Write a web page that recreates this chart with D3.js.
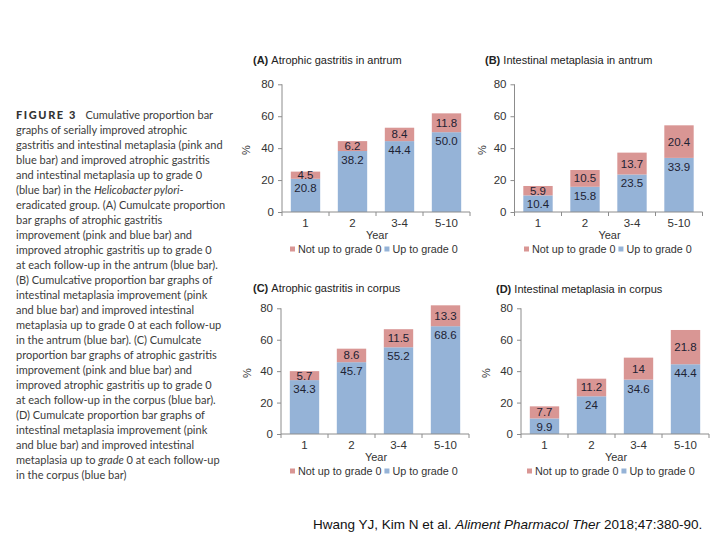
<!DOCTYPE html>
<html>
<head>
<meta charset="utf-8">
<script src="https://cdn.jsdelivr.net/npm/d3@7"></script>
<style>
  html, body { margin: 0; padding: 0; background: #ffffff; }
  svg { display: block; }
</style>
</head>
<body>
<script>
// ---------------- DATA ----------------
const years = ["1", "2", "3-4", "5-10"];
const yTicks = [0, 20, 40, 60, 80];
const seriesNames = ["Not up to grade 0", "Up to grade 0"];

const agAntrumUp  = [20.8, 38.2, 44.4, 50.0];
const agAntrumNot = [4.5, 6.2, 8.4, 11.8];
const imAntrumUp  = [10.4, 15.8, 23.5, 33.9];
const imAntrumNot = [5.9, 10.5, 13.7, 20.4];
const agCorpusUp  = [34.3, 45.7, 55.2, 68.6];
const agCorpusNot = [5.7, 8.6, 11.5, 13.3];
const imCorpusUp  = [9.9, 24, 34.6, 44.4];
const imCorpusNot = [7.7, 11.2, 14, 21.8];

const panelTags   = ["(A)", "(B)", "(C)", "(D)"];
const panelTitles = ["Atrophic gastritis in antrum", "Intestinal metaplasia in antrum",
                     "Atrophic gastritis in corpus", "Intestinal metaplasia in corpus"];

const captionLines = [
  [["b", "FIGURE 3"], ["n", "   Cumulative proportion bar"]],
  [["n", "graphs of serially improved atrophic"]],
  [["n", "gastritis and intestinal metaplasia (pink and"]],
  [["n", "blue bar) and improved atrophic gastritis"]],
  [["n", "and intestinal metaplasia up to grade 0"]],
  [["n", "(blue bar) in the "], ["i", "Helicobacter pylori"], ["n", "-"]],
  [["n", "eradicated group. (A) Cumulcate proportion"]],
  [["n", "bar graphs of atrophic gastritis"]],
  [["n", "improvement (pink and blue bar) and"]],
  [["n", "improved atrophic gastritis up to grade 0"]],
  [["n", "at each follow-up in the antrum (blue bar)."]],
  [["n", "(B) Cumulcative proportion bar graphs of"]],
  [["n", "intestinal metaplasia improvement (pink"]],
  [["n", "and blue bar) and improved intestinal"]],
  [["n", "metaplasia up to grade 0 at each follow-up"]],
  [["n", "in the antrum (blue bar). (C) Cumulcate"]],
  [["n", "proportion bar graphs of atrophic gastritis"]],
  [["n", "improvement (pink and blue bar) and"]],
  [["n", "improved atrophic gastritis up to grade 0"]],
  [["n", "at each follow-up in the corpus (blue bar)."]],
  [["n", "(D) Cumulcate proportion bar graphs of"]],
  [["n", "intestinal metaplasia improvement (pink"]],
  [["n", "and blue bar) and improved intestinal"]],
  [["n", "metaplasia up to "], ["i", "grade"], ["n", " 0 at each follow-up"]],
  [["n", "in the corpus (blue bar)"]]
];

// ---------------- STYLE / LAYOUT ----------------
const PINK = "#d99694", BLUE = "#95b3d7", AXIS = "#8c8c8c";
const chartFont = "'Liberation Sans', Arial, sans-serif";

const layouts = [
  { x0: 282,   x1: 470,   y0: 212, yTop: 84.3,  tagX: 253, titleY: 64,  pctX: 250, legendX: 290 },
  { x0: 514.5, x1: 702.5, y0: 212, yTop: 84.3,  tagX: 485, titleY: 64,  pctX: 486, legendX: 524 },
  { x0: 281,   x1: 469,   y0: 434, yTop: 308.3, tagX: 253, titleY: 292, pctX: 251, legendX: 290 },
  { x0: 521,   x1: 709,   y0: 434, yTop: 308.3, tagX: 496, titleY: 293, pctX: 490, legendX: 527 }
];
const ups  = [agAntrumUp, imAntrumUp, agCorpusUp, imCorpusUp];
const nots = [agAntrumNot, imAntrumNot, agCorpusNot, imCorpusNot];
const fmts = [d => d.toFixed(1), d => d.toFixed(1), d => d.toFixed(1), d => String(d)];

const svg = d3.select("body").append("svg").attr("width", 720).attr("height", 540);

// ---------------- CAPTION ----------------
const cap = svg.append("text")
  .attr("font-family", "Lato, 'Open Sans', sans-serif")
  .attr("font-size", 11)
  .attr("fill", "#3c3c3c");
captionLines.forEach((line, i) => {
  line.forEach((seg, j) => {
    const t = cap.append("tspan").text(seg[1]).attr("xml:space", "preserve").style("white-space", "pre");
    if (j === 0) t.attr("x", 16).attr("y", 119 + i * 15);
    if (seg[0] === "b") t.attr("font-weight", 900).attr("letter-spacing", 1.6).attr("fill", "#333");
    if (seg[0] === "i") t.attr("font-style", "italic");
  });
});

// ---------------- PANELS ----------------
layouts.forEach((L, p) => {
  const g = svg.append("g").attr("font-family", chartFont);
  const x = d3.scaleBand().domain(years).range([L.x0, L.x1]).paddingInner(0.375).paddingOuter(0.1875);
  const y = d3.scaleLinear().domain([0, 80]).range([L.y0, L.yTop]);

  const rows = years.map((yr, i) => ({ year: yr, up: ups[p][i], not: nots[p][i] }));
  const stacked = d3.stack().keys(["up", "not"])(rows);

  // title
  const title = g.append("text").attr("x", L.tagX).attr("y", L.titleY)
    .attr("font-size", 11).attr("fill", "#222");
  title.append("tspan").attr("font-weight", "bold").text(panelTags[p] + " ");
  title.append("tspan").text(panelTitles[p]);

  // bars
  const colors = { up: BLUE, not: PINK };
  stacked.forEach(layer => {
    g.append("g").selectAll("rect").data(layer).join("rect")
      .attr("x", d => x(d.data.year))
      .attr("width", x.bandwidth())
      .attr("y", d => y(d[1]))
      .attr("height", d => y(d[0]) - y(d[1]))
      .attr("fill", colors[layer.key]);
  });

  // data labels
  const [upLayer, notLayer] = stacked;
  g.append("g").selectAll("text").data(upLayer).join("text")
    .attr("x", d => x(d.data.year) + x.bandwidth() / 2)
    .attr("y", d => y(d[1]) + 13)
    .attr("text-anchor", "middle").attr("font-size", 11.5).attr("fill", "#1d2233")
    .text(d => fmts[p](d.data.up));
  g.append("g").selectAll("text").data(notLayer).join("text")
    .attr("x", d => x(d.data.year) + x.bandwidth() / 2)
    .attr("y", d => (y(d[0]) + y(d[1])) / 2 + 4)
    .attr("text-anchor", "middle").attr("font-size", 11.5).attr("fill", "#1d2233")
    .text(d => fmts[p](d.data.not));

  // y axis
  const ya = g.append("g").attr("transform", `translate(${L.x0},0)`)
    .call(d3.axisLeft(y).tickValues(yTicks).tickSize(4).tickPadding(4));
  ya.select(".domain").attr("stroke", AXIS).attr("d", `M-0,${L.y0}V${L.yTop}`);
  ya.selectAll(".tick line").attr("stroke", AXIS);
  ya.selectAll(".tick text").attr("font-size", 11.5).attr("fill", "#333").attr("font-family", chartFont);

  // x axis
  const xa = g.append("g").attr("transform", `translate(0,${L.y0})`)
    .call(d3.axisBottom(x).tickSize(0).tickPadding(7));
  xa.select(".domain").attr("stroke", AXIS).attr("d", `M${L.x0},0H${L.x1}`);
  xa.selectAll(".tick text").attr("font-size", 11.5).attr("fill", "#333").attr("font-family", chartFont);
  const bounds = years.map(d => x(d) - x.step() * 0.1875).concat([L.x1]);
  xa.append("g").selectAll("line").data(bounds).join("line")
    .attr("x1", d => d).attr("x2", d => d).attr("y1", 0).attr("y2", 4).attr("stroke", AXIS);

  // axis titles
  g.append("text").attr("transform", `translate(${L.pctX},${(L.y0 + L.yTop) / 2 + 2}) rotate(-90)`)
    .attr("text-anchor", "middle").attr("font-size", 11).attr("fill", "#333").text("%");
  g.append("text").attr("x", (L.x0 + L.x1) / 2 + 1).attr("y", L.y0 + 26.5)
    .attr("text-anchor", "middle").attr("font-size", 11).attr("fill", "#333").text("Year");

  // legend
  const ly = L.y0 + 37;
  const lg = g.append("g");
  let cx = L.legendX;
  [[seriesNames[0], PINK], [seriesNames[1], BLUE]].forEach(([name, c]) => {
    lg.append("rect").attr("x", cx).attr("y", ly - 2.5).attr("width", 5).attr("height", 5).attr("fill", c);
    const t = lg.append("text").attr("x", cx + 8).attr("y", ly + 4)
      .attr("font-size", 10.8).attr("fill", "#333").text(name);
    cx = cx + 8 + t.node().getComputedTextLength() + 3;
  });
});

// ---------------- CITATION ----------------
const cit = svg.append("text").attr("x", 313).attr("y", 529)
  .attr("font-family", chartFont).attr("font-size", 13.5).attr("fill", "#111");
cit.append("tspan").text("Hwang YJ, Kim N et al. ");
cit.append("tspan").attr("font-style", "italic").text("Aliment Pharmacol Ther");
cit.append("tspan").text(" 2018;47:380-90.");
</script>
</body>
</html>
